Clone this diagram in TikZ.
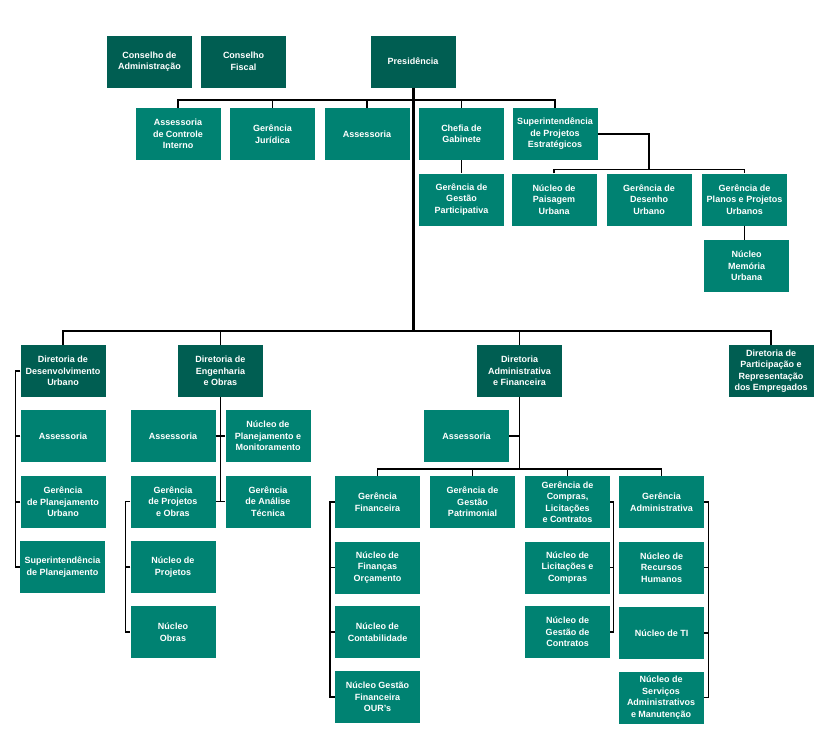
\documentclass[tikz,border=0pt]{standalone}
\usepackage{fontspec}
\setmainfont{Liberation Sans}
\usetikzlibrary{positioning}
\definecolor{headgreen}{HTML}{005E52}
\definecolor{unitgreen}{HTML}{008272}

\begin{document}
\begin{tikzpicture}[
			x=1pt,y=-1pt,
			head/.style={
				fill=headgreen,
				text=white,
				rectangle,
				minimum width=85pt,
				minimum height=52pt,
				inner sep=1pt,
				align=center,
				font=\fontsize{9}{11.5}\selectfont\bfseries
			},
			unit/.style={head, fill=unitgreen},
			link/.style={draw=black, line width=1.4pt},
			trunk/.style={draw=black, line width=3pt}
			]
			\useasboundingbox (0,0) rectangle (830,745);
			% Top level
			\node[head] (cadm) at (149.5,61.5) {Conselho de\\Administração};
			\node[head] (cfis) at (243.5,61.5) {Conselho\\Fiscal};
			\node[head] (pres) at (413,61.5) {Presidência};
			
			% Units under the presidency
			\node[unit] (acint) at (178,134) {Assessoria\\de Controle\\Interno};
			\node[unit] (gjur) at (272.5,134) {Gerência\\Jurídica};
			\node[unit] (ass1) at (367,134) {Assessoria};
			\node[unit] (chefia) at (461.5,134) {Chefia de\\Gabinete};
			\node[unit] (spe) at (555,134) {Superintendência\\de Projetos\\Estratégicos};
			\node[unit] (gpart) at (461.5,199.5) {Gerência de\\Gestão\\Participativa};
			\node[unit] (npais) at (554,199.5) {Núcleo de\\Paisagem\\Urbana};
			\node[unit] (gdes) at (649,199.5) {Gerência de\\Desenho\\Urbano};
			\node[unit] (gppu) at (744.5,199.5) {Gerência de\\Planos e Projetos\\Urbanos};
			\node[unit] (nmem) at (746.5,266) {Núcleo\\Memória\\Urbana};
			
			% Directorates
			\node[head] (dirdu) at (63,371) {Diretoria de\\Desenvolvimento\\Urbano};
			\node[head] (direo) at (220.5,371) {Diretoria de\\Engenharia\\e Obras};
			\node[head] (diraf) at (519.5,371) {Diretoria\\Administrativa\\e Financeira};
			\node[head] (dirpre) at (771,371) {Diretoria de\\Participação e\\Representação\\dos Empregados};
			
			% Desenvolvimento Urbano
			\node[unit] (assdu) at (63,436) {Assessoria};
			\node[unit] (gplan) at (63,502) {Gerência\\de Planejamento\\Urbano};
			\node[unit] (supplan) at (62.5,567) {Superintendência\\de Planejamento};
			
			% Engenharia e Obras
			\node[unit] (assen) at (173,436) {Assessoria};
			\node[unit] (npm) at (268,436) {Núcleo de\\Planejamento e\\Monitoramento};
			\node[unit] (gproj) at (173,501.5) {Gerência\\de Projetos\\e Obras};
			\node[unit] (ganal) at (268,501.5) {Gerência\\de Análise\\Técnica};
			\node[unit] (nproj) at (173,567) {Núcleo de\\Projetos};
			\node[unit] (nobras) at (173,632) {Núcleo\\Obras};
			
			% Administrativa e Financeira
			\node[unit] (assaf) at (466.5,436) {Assessoria};
			\node[unit] (gfin) at (377.5,502) {Gerência\\Financeira};
			\node[unit] (gpat) at (472.5,502) {Gerência de\\Gestão\\Patrimonial};
			\node[unit] (gcomp) at (567.5,502) {Gerência de\\Compras,\\Licitações\\e Contratos};
			\node[unit] (gadm) at (661.5,502) {Gerência\\Administrativa};
			\node[unit] (nfin) at (377.5,567.5) {Núcleo de\\Finanças\\Orçamento};
			\node[unit] (ncont) at (377.5,632) {Núcleo de\\Contabilidade};
			\node[unit] (nour) at (377.5,697) {Núcleo Gestão\\Financeira\\OUR's};
			\node[unit] (nlc) at (567.5,567.5) {Núcleo de\\Licitações e\\Compras};
			\node[unit] (ngc) at (567.5,632) {Núcleo de\\Gestão de\\Contratos};
			\node[unit] (nrh) at (661.5,567.5) {Núcleo de\\Recursos\\Humanos};
			\node[unit] (nti) at (661.5,633) {Núcleo de TI};
			\node[unit] (nsam) at (661,697.5) {Núcleo de\\Serviços\\Administrativos\\e Manutenção};
			
			% Presidency links
			\draw[trunk] (pres.south) -- ([yshift=14pt]dirdu.north -| pres.south);
			\draw[link] (acint.north) -- ++(0,-8) -| (spe.north);
			\foreach \n in {gjur,ass1,chefia}
				\draw[link] (\n.north) -- ++(0,-8);
			\draw[link] (chefia) -- (gpart);
			\draw[link] (spe.east) -| ([yshift=4pt]gdes.north);
			\draw[link] (npais.north) -- ++(0,-4) -| (gppu.north);
			\draw[link] (gppu.south) -- (gppu.south |- nmem.north);
			
			% Directorate bar
			\draw[link] (dirdu.north) -- ++(0,-14) -| (dirpre.north);
			\foreach \n in {direo,diraf}
				\draw[link] (\n.north) -- ++(0,-14);
			
			% Desenvolvimento Urbano links
			\draw[link] (dirdu.west) -- ++(-5,0) |- (supplan.west);
			\foreach \n in {assdu,gplan}
				\draw[link] (\n.west) -- ++(-5,0);
			
			% Engenharia e Obras links
			\draw[link] (direo.south) |- (gproj.east);
			\draw[link] (direo.south |- gproj.east) -- (ganal.west);
			\draw[link] (assen.east) -- (npm.west);
			\draw[link] (gproj.west) -- ++(-5,0) |- (nobras.west);
			\draw[link] (nproj.west) -- ++(-5,0);
			
			% Administrativa e Financeira links
			\draw[link] (diraf.south) -- ([yshift=7pt]gfin.north -| diraf.south);
			\draw[link] (assaf.east) -- (assaf.east -| diraf.south);
			\draw[link] (gfin.north) -- ++(0,-7) -| (gadm.north);
			\foreach \n in {gpat,gcomp}
				\draw[link] (\n.north) -- ++(0,-7);
			\draw[link] (gfin.west) -- ++(-5,0) |- (nour.west);
			\foreach \n in {nfin,ncont}
				\draw[link] (\n.west) -- ++(-5,0);
			\draw[link] (gcomp.east) -- ++(3,0) |- (ngc.east);
			\draw[link] (nlc.east) -- ++(3,0);
			\draw[link] (gadm.east) -- ++(4,0) |- (nsam.east);
			\foreach \n in {nrh,nti}
				\draw[link] (\n.east) -- ++(4,0);
		\end{tikzpicture}
\end{document}
